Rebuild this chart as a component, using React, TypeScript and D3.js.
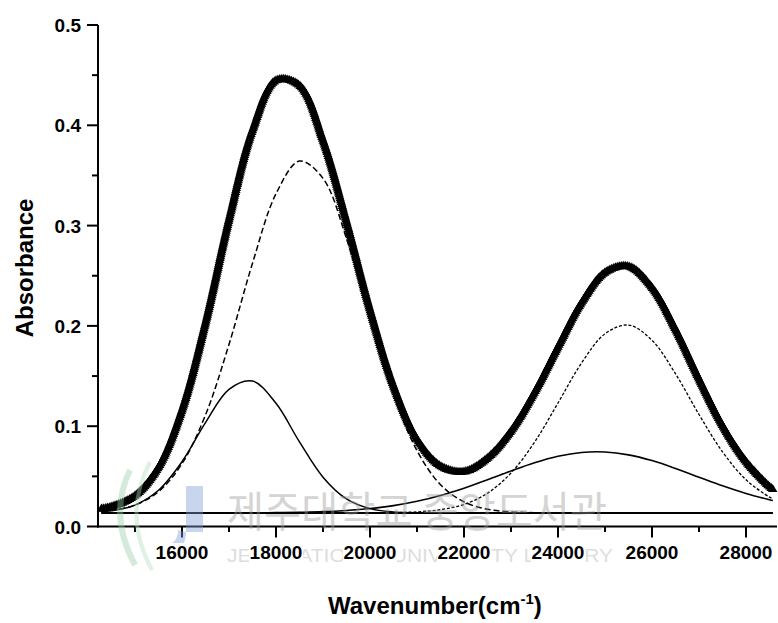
import React, { useEffect, useRef, useState } from 'react';
import * as d3 from 'd3';

// Wavenumber sample positions (cm^-1)
const wavenumbers = [14286, 14500, 15000, 15500, 16000, 16500, 17000, 17500, 18000, 18500, 19000, 19500, 20000, 20500, 21000, 21500, 22000, 22500, 23000, 23500, 24000, 24500, 25000, 25500, 26000, 26500, 27000, 27500, 28000, 28500, 28571];

// Measured spectrum (thick triangle trace)
const totalAbs = [0.0175, 0.0195, 0.0305, 0.0590, 0.1160, 0.2030, 0.3060, 0.3950, 0.4445, 0.4395, 0.3850, 0.3040, 0.2160, 0.1400, 0.0870, 0.0600, 0.0545, 0.0680, 0.0950, 0.1335, 0.1790, 0.2230, 0.2530, 0.2590, 0.2380, 0.1965, 0.1470, 0.1005, 0.0645, 0.0395, 0.0370];

// Fitted component bands
const band1 = [0.0146, 0.0156, 0.0213, 0.0361, 0.0646, 0.1035, 0.1368, 0.1450, 0.1228, 0.0843, 0.0492, 0.0275, 0.0178, 0.0145, 0.0137, 0.0135, 0.0135, 0.0135, 0.0135, 0.0135, 0.0135, 0.0135, 0.0135, 0.0135, 0.0135, 0.0135, 0.0135, 0.0135, 0.0135, 0.0135, 0.0135];
const band2 = [0.0150, 0.0161, 0.0214, 0.0347, 0.0626, 0.1112, 0.1815, 0.2624, 0.3317, 0.3643, 0.3471, 0.2871, 0.2071, 0.1316, 0.0756, 0.0417, 0.0245, 0.0172, 0.0146, 0.0138, 0.0136, 0.0135, 0.0135, 0.0135, 0.0135, 0.0135, 0.0135, 0.0135, 0.0135, 0.0135, 0.0135];
const band3 = [0.0135, 0.0135, 0.0135, 0.0135, 0.0135, 0.0135, 0.0135, 0.0136, 0.0138, 0.0142, 0.0148, 0.0160, 0.0179, 0.0208, 0.0251, 0.0309, 0.0382, 0.0466, 0.0553, 0.0635, 0.0700, 0.0738, 0.0743, 0.0714, 0.0657, 0.0579, 0.0492, 0.0406, 0.0330, 0.0267, 0.0259];
const band4 = [0.0135, 0.0135, 0.0135, 0.0135, 0.0135, 0.0135, 0.0135, 0.0135, 0.0135, 0.0135, 0.0135, 0.0135, 0.0136, 0.0138, 0.0146, 0.0168, 0.0220, 0.0332, 0.0533, 0.0840, 0.1231, 0.1629, 0.1921, 0.2008, 0.1857, 0.1523, 0.1117, 0.0744, 0.0466, 0.0293, 0.0276];

const baselineX = [14286, 28571];
const baselineY = [0.0135, 0.0135];

const xTicks = [16000, 18000, 20000, 22000, 24000, 26000, 28000];
const xMinorTicks = [15000, 17000, 19000, 21000, 23000, 25000, 27000];
const yTicks = [0, 0.1, 0.2, 0.3, 0.4, 0.5];
const yMinorTicks = [0.05, 0.15, 0.25, 0.35, 0.45];

const W = 778;
const H = 623;
const FONT = "'Liberation Sans', Arial, Helvetica, sans-serif";

const x = d3.scaleLinear().domain([14213, 28617]).range([98, 775]);
const y = d3.scaleLinear().domain([0, 0.5]).range([526.5, 25]);

function makeLine(xs: number[], ys: number[]) {
  const pts = xs.map((v, i) => [v, ys[i]] as [number, number]);
  return d3
    .line<[number, number]>()
    .x((d) => x(d[0]))
    .y((d) => y(d[1]))
    .curve(d3.curveCatmullRom.alpha(0.5))(pts) as string;
}

export default function App() {
  const totalRef = useRef<SVGPathElement>(null);
  const [marks, setMarks] = useState<[number, number][]>([]);

  const totalPath = makeLine(wavenumbers, totalAbs);
  const tri = d3.symbol(d3.symbolTriangle, 38)() as string;

  useEffect(() => {
    const p = totalRef.current;
    if (!p) return;
    const L = p.getTotalLength();
    const pts: [number, number][] = [];
    for (let l = 0; l <= L; l += 2) {
      const q = p.getPointAtLength(l);
      pts.push([q.x, q.y]);
    }
    setMarks(pts);
  }, []);

  const fmt = d3.format('.1f');

  return (
    <svg
      width={W}
      height={H}
      style={{ position: 'absolute', left: 0, top: 0, background: '#fff' }}
      fontFamily={FONT}
    >
      <rect x={0} y={0} width={W} height={H} fill="#fff" />

      {/* baseline */}
      <path d={makeLine(baselineX, baselineY)} fill="none" stroke="#000" strokeWidth={2} />

      {/* component bands */}
      <path d={makeLine(wavenumbers, band1)} fill="none" stroke="#000" strokeWidth={1.5} />
      <path d={makeLine(wavenumbers, band2)} fill="none" stroke="#000" strokeWidth={1.5} strokeDasharray="6,3" />
      <path d={makeLine(wavenumbers, band3)} fill="none" stroke="#000" strokeWidth={1.6} />
      <path d={makeLine(wavenumbers, band4)} fill="none" stroke="#000" strokeWidth={1.3} strokeDasharray="3,1.8" />

      {/* measured spectrum as dense triangles */}
      <path ref={totalRef} d={totalPath} fill="none" stroke="#000" strokeWidth={5} />
      <g fill="#000">
        {marks.map((m, i) => (
          <path key={i} d={tri} transform={`translate(${m[0]},${m[1]})`} />
        ))}
      </g>

      {/* axes */}
      <line x1={98} x2={98} y1={25} y2={527.5} stroke="#000" strokeWidth={2} />
      <line x1={97} x2={777} y1={526.5} y2={526.5} stroke="#000" strokeWidth={2} />

      {yTicks.map((t) => (
        <g key={`yt${t}`}>
          <line x1={87} x2={98} y1={y(t)} y2={y(t)} stroke="#000" strokeWidth={2} />
          <text x={81} y={y(t) + 7} textAnchor="end" fontSize={19} fontWeight="bold">
            {fmt(t)}
          </text>
        </g>
      ))}
      {yMinorTicks.map((t) => (
        <line key={`ym${t}`} x1={92} x2={98} y1={y(t)} y2={y(t)} stroke="#000" strokeWidth={2} />
      ))}

      {xTicks.map((t) => (
        <line key={`xt${t}`} x1={x(t)} x2={x(t)} y1={526.5} y2={537.5} stroke="#000" strokeWidth={2} />
      ))}
      {xMinorTicks.map((t) => (
        <line key={`xm${t}`} x1={x(t)} x2={x(t)} y1={526.5} y2={532} stroke="#000" strokeWidth={2} />
      ))}

      {/* library watermark */}
      <g opacity={0.42}>
        <path d="M130,470 Q108,515 135,565" fill="none" stroke="#9ccfa8" strokeWidth={6} />
        <path d="M150,462 Q122,515 152,570" fill="none" stroke="#b5dcc0" strokeWidth={4} />
        <rect x={186} y={486} width={17} height={46} fill="#7d9fd6" />
        <path d="M186,532 Q186,552 166,552 L160,552 L160,546 Q178,546 178,530 Z" fill="#7d9fd6" />
        <text x={227} y={527} fontSize={42} fill="#9a9a9a" textLength={380} lengthAdjust="spacingAndGlyphs"
          fontFamily="'Noto Sans CJK KR', sans-serif">
          제주대학교 중앙도서관
        </text>
        <text x={227} y={562} fontSize={18} fill="#b0b0b0" textLength={386} lengthAdjust="spacingAndGlyphs">
          JEJU NATIONAL UNIVERSITY LIBRARY
        </text>
      </g>

      {/* x tick labels (opaque, covering the watermark) */}
      {xTicks.map((t) => (
        <g key={`xl${t}`}>
          <rect x={x(t) - 27} y={543} width={54} height={20} fill="#fff" />
          <text x={x(t)} y={559} textAnchor="middle" fontSize={19} fontWeight="bold">
            {t}
          </text>
        </g>
      ))}

      {/* axis titles */}
      <text x={328} y={614} fontSize={24} fontWeight="bold">
        Wavenumber(cm
        <tspan fontSize={15} dy={-10}>-1</tspan>
        <tspan dy={10}>)</tspan>
      </text>
      <text transform="translate(33,268) rotate(-90)" textAnchor="middle" fontSize={24} fontWeight="bold">
        Absorbance
      </text>
    </svg>
  );
}
